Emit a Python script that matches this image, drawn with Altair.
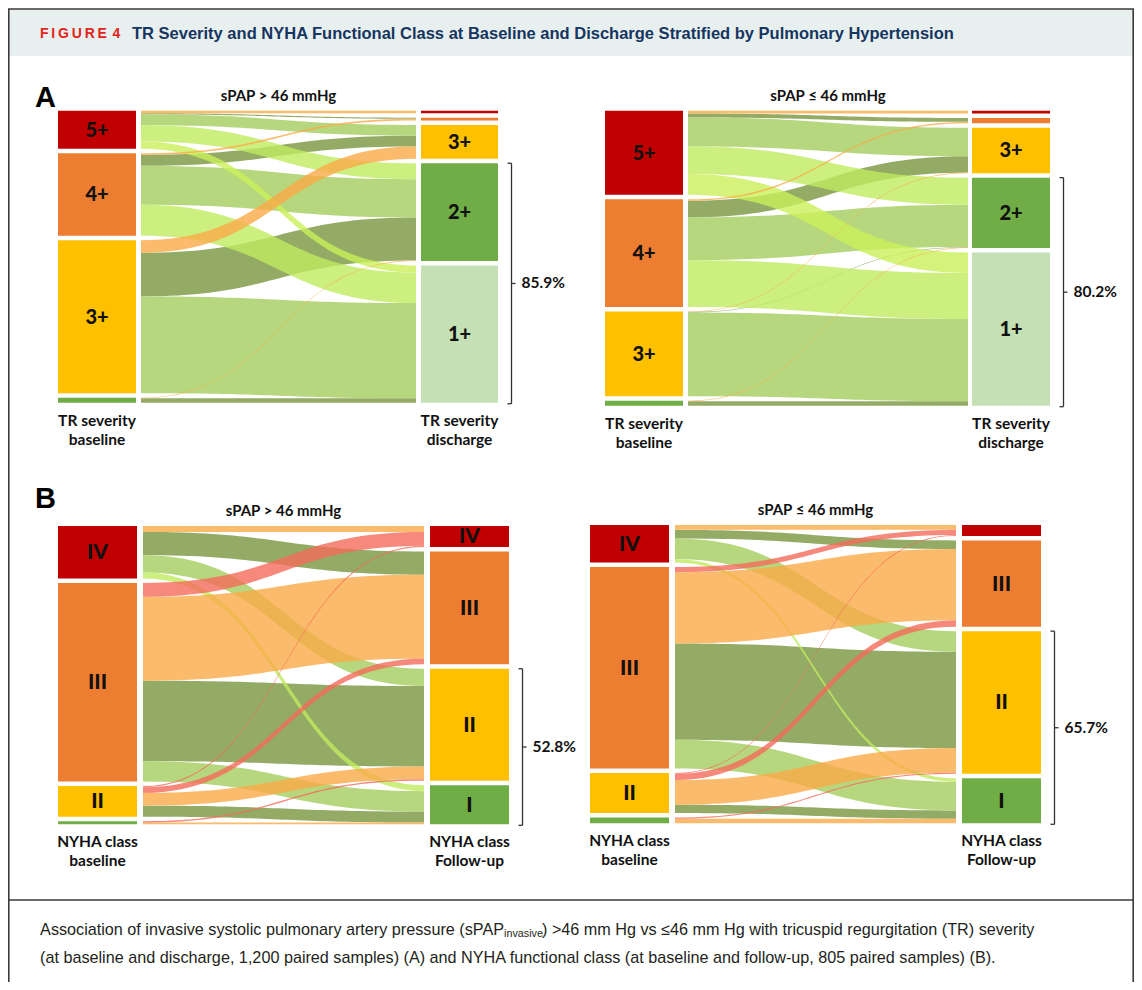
import altair as alt
import numpy as np
import pandas as pd

# ----------------------------- data -----------------------------
TR_GRADES = ["5+", "4+", "3+", "2+", "1+"]
NYHA_CLASSES = ["IV", "III", "II", "I"]

# Panel A (TR severity), % of paired samples, baseline -> discharge
A_SRC = ["5+", "5+", "5+", "5+", "5+", "4+", "4+", "4+", "4+", "3+", "3+", "3+", "2+", "2+"]
A_TGT = ["5+", "4+", "3+", "2+", "1+", "4+", "3+", "2+", "1+", "3+", "2+", "1+", "2+", "1+"]
A_HI_PCT = [0.9, 0.4, 3.9, 5.8, 2.6, 0.6, 3.9, 13.9, 11.1, 4.5, 15.6, 34.6, 0.2, 1.6]
A_LO_PCT = [1.0, 1.4, 10.3, 9.8, 7.4, 0.5, 5.9, 15.2, 16.6, 0.2, 0.2, 29.7, 0.2, 1.6]

# Panel B (NYHA class), % of paired samples, baseline -> follow-up
B_SRC = ["IV", "IV", "IV", "IV", "III", "III", "III", "III", "II", "II", "II", "II", "I", "I"]
B_TGT = ["IV", "III", "II", "I", "IV", "III", "II", "I", "IV", "III", "II", "I", "II", "I"]
B_HI_PCT = [2.1, 8.2, 6.1, 2.1, 4.9, 29.6, 28.4, 7.2, 0.4, 2.0, 4.5, 3.9, 0.5, 0.6]
B_LO_PCT = [1.7, 3.0, 7.2, 1.2, 1.8, 24.9, 33.6, 10.0, 0.3, 2.2, 8.6, 2.9, 0.4, 1.6]

PANEL_TITLES = ["sPAP > 46 mmHg", "sPAP \u2264 46 mmHg", "sPAP > 46 mmHg", "sPAP \u2264 46 mmHg"]
PCT_LABELS = ["85.9%", "80.2%", "52.8%", "65.7%"]
LEFT_LABELS = [["TR severity", "baseline"], ["TR severity", "baseline"],
               ["NYHA class", "baseline"], ["NYHA class", "baseline"]]
RIGHT_LABELS = [["TR severity", "discharge"], ["TR severity", "discharge"],
                ["NYHA class", "Follow-up"], ["NYHA class", "Follow-up"]]
BRACKET_FROM = ["2+", "2+", "II", "II"]

HEADER_TAG = "F\u2009I\u2009G\u2009U\u2009R\u2009E\u2009\u20094"
HEADER_TITLE = "TR Severity and NYHA Functional Class at Baseline and Discharge Stratified by Pulmonary Hypertension"
CAP1_A = "Association of invasive systolic pulmonary artery pressure (sPAP"
CAP1_SUB = "invasive"
CAP1_B = ") >46 mm Hg vs \u226446 mm Hg with tricuspid regurgitation (TR) severity"
CAP2 = "(at baseline and discharge, 1,200 paired samples) (A) and NYHA functional class (at baseline and follow-up, 805 paired samples) (B)."

# ----------------------------- styles / layout -----------------------------
NODE_COLORS = {"5+": "#C00000", "4+": "#ED7D31", "3+": "#FFC000", "2+": "#70AD47", "1+": "#C5E0B4",
               "IV": "#C00000", "III": "#ED7D31", "II": "#FFC000", "I": "#70AD47"}
FLOW_COLORS = {-3: "#F46B5A", -2: "#F46B5A", -1: "#F46B5A", 0: "#FAAA47",
               1: "#78963F", 2: "#A5CD5E", 3: "#C0EB60", 4: "#CBF05A"}
DRAW_ORDER = [1, 2, 3, 4, 0, -1, -2, -3]

PANELS = [
    dict(src=A_SRC, tgt=A_TGT, val=A_HI_PCT, order=TR_GRADES,
         xl=(58, 136), xf=(141, 416), xr=(421, 498), top=110.7, bottom=402.7, fs=20),
    dict(src=A_SRC, tgt=A_TGT, val=A_LO_PCT, order=TR_GRADES,
         xl=(605, 683), xf=(688, 968), xr=(972, 1050), top=110.7, bottom=405.7, fs=20),
    dict(src=B_SRC, tgt=B_TGT, val=B_HI_PCT, order=NYHA_CLASSES,
         xl=(58, 137), xf=(143, 424), xr=(430, 509), top=526, bottom=824.3, fs=21),
    dict(src=B_SRC, tgt=B_TGT, val=B_LO_PCT, order=NYHA_CLASSES,
         xl=(590, 669), xf=(675, 956), xr=(962, 1041), top=525, bottom=823.3, fs=21),
]
GAP = 4.5
LABEL_FONT = "Lato"
SANS = "Liberation Sans"

# ----------------------------- sankey layout -----------------------------
node_rows, flow_rows, nlabel_rows = [], [], []
title_rows, axis_rows, pct_rows, bracket_rows = [], [], [], []
T = np.linspace(0, 1, 41)

for pi, p in enumerate(PANELS):
    order = p["order"]
    rank = {c: i for i, c in enumerate(order)}
    H = p["bottom"] - p["top"]
    lt, rt = {}, {}
    for s, t, v in zip(p["src"], p["tgt"], p["val"]):
        lt[s] = lt.get(s, 0) + v
        rt[t] = rt.get(t, 0) + v

    def column(tot):
        present = [c for c in order if tot.get(c, 0) > 0]
        ssum = sum(tot[c] for c in present)
        k = (H - GAP * (len(present) - 1)) / ssum
        pos, y = {}, p["top"]
        for c in present:
            h = tot[c] * k
            pos[c] = (y, y + h)
            y += h + GAP
        return pos, k

    lpos, kl = column(lt)
    rpos, kr = column(rt)
    for side, pos, (x0, x1) in (("l", lpos, p["xl"]), ("r", rpos, p["xr"])):
        for c, (y0, y1) in pos.items():
            node_rows.append(dict(x=x0, x2=x1, y=y0, y2=y1, fill=NODE_COLORS[c]))
            if y1 - y0 >= 18:
                nlabel_rows.append(dict(x=(x0 + x1) / 2, y=(y0 + y1) / 2 + 1, text=c, size=p["fs"]))

    idx = list(range(len(p["val"])))
    lcur = {c: lpos[c][0] for c in lpos}
    rcur = {c: rpos[c][0] for c in rpos}
    lend, rend = {}, {}
    for i in sorted(idx, key=lambda i: (rank[p["src"][i]], rank[p["tgt"][i]])):
        y0 = lcur[p["src"][i]]
        lend[i] = (y0, y0 + p["val"][i] * kl)
        lcur[p["src"][i]] = lend[i][1]
    for i in sorted(idx, key=lambda i: (rank[p["tgt"][i]], rank[p["src"][i]])):
        y0 = rcur[p["tgt"][i]]
        rend[i] = (y0, y0 + p["val"][i] * kr)
        rcur[p["tgt"][i]] = rend[i][1]

    xf0, xf1 = p["xf"]
    for i in idx:
        imp = rank[p["tgt"][i]] - rank[p["src"][i]]
        (l0, l1), (r0, r1) = lend[i], rend[i]
        u = 1.5 * T * (1 - T) + T ** 3
        v = 3 * T ** 2 - 2 * T ** 3
        for uu, vv in zip(u, v):
            flow_rows.append(dict(fid=f"p{pi}f{i}", kind=imp, fill=FLOW_COLORS[imp],
                                  x=xf0 + uu * (xf1 - xf0),
                                  y=l0 + vv * (r0 - l0), y2=l1 + vv * (r1 - l1)))

    # titles and column labels
    title_rows.append(dict(x=(xf0 + xf1) / 2, y=p["top"] - 15, text=PANEL_TITLES[pi]))
    bot = max(lpos[c][1] for c in lpos)
    for j, txt in enumerate(LEFT_LABELS[pi]):
        axis_rows.append(dict(x=sum(p["xl"]) / 2, y=bot + 18 + 19 * j, text=txt))
    for j, txt in enumerate(RIGHT_LABELS[pi]):
        axis_rows.append(dict(x=sum(p["xr"]) / 2, y=bot + 18 + 19 * j, text=txt))

    # bracket
    bx = p["xr"][1] + 13.5
    by0 = rpos[BRACKET_FROM[pi]][0]
    by1 = max(rpos[c][1] for c in rpos) + 1
    bm = (by0 + by1) / 2
    bracket_rows += [dict(x=bx, x2=bx, y=by0, y2=by1),
                     dict(x=bx - 4, x2=bx, y=by0, y2=by0),
                     dict(x=bx - 4, x2=bx, y=by1, y2=by1),
                     dict(x=bx, x2=bx + 4, y=bm, y2=bm)]
    pct_rows.append(dict(x=bx + 10, y=bm, text=PCT_LABELS[pi]))

nodes_df = pd.DataFrame(node_rows)
flows_df = pd.DataFrame(flow_rows)

# ----------------------------- encodings -----------------------------
XS = alt.Scale(domain=[8, 1134], nice=False, zero=False)
YS = alt.Scale(domain=[8, 982], nice=False, zero=False, reverse=True)
X = alt.X("x:Q", scale=XS, axis=None)
Y = alt.Y("y:Q", scale=YS, axis=None)


def texts(rows, **kw):
    return alt.Chart(pd.DataFrame(rows)).mark_text(**kw).encode(x=X, y=Y, text="text:N")


layers = []
# header band and frame
layers.append(alt.Chart(pd.DataFrame([dict(x=8, x2=1134, y=9, y2=56)])).mark_rect(color="#E8F0EF").encode(
    x=X, x2="x2:Q", y=Y, y2="y2:Q"))
frame = pd.DataFrame([dict(x=8, x2=1134, y=9, y2=9), dict(x=8.8, x2=8.8, y=9, y2=982),
                      dict(x=1133.2, x2=1133.2, y=9, y2=982), dict(x=8, x2=1134, y=900, y2=900)])
layers.append(alt.Chart(frame).mark_rule(color="#3A3A3A", strokeWidth=1.6).encode(
    x=X, x2="x2:Q", y=Y, y2="y2:Q"))

# flows
for kind in DRAW_ORDER:
    sub = flows_df[flows_df["kind"] == kind]
    if len(sub) == 0:
        continue
    layers.append(alt.Chart(sub).mark_area(opacity=0.8, orient="vertical", interpolate="linear").encode(
        x=X, y=Y, y2="y2:Q", detail="fid:N", color=alt.Color("fill:N", scale=None)))

# nodes
layers.append(alt.Chart(nodes_df).mark_rect().encode(
    x=X, x2="x2:Q", y=Y, y2="y2:Q", color=alt.Color("fill:N", scale=None)))
layers.append(alt.Chart(pd.DataFrame(nlabel_rows)).mark_text(
    font=LABEL_FONT, fontWeight=900, color="#111111", baseline="middle").encode(
    x=X, y=Y, text="text:N", size=alt.Size("size:Q", scale=None)))

# brackets
layers.append(alt.Chart(pd.DataFrame(bracket_rows)).mark_rule(color="#333333", strokeWidth=1.3).encode(
    x=X, x2="x2:Q", y=Y, y2="y2:Q"))

layers.append(texts(title_rows, font=LABEL_FONT, fontSize=15, fontWeight="bold", color="#111111",
                    baseline="middle"))
layers.append(texts(axis_rows, font=LABEL_FONT, fontSize=15.5, fontWeight="bold", color="#111111",
                    baseline="middle"))
layers.append(texts(pct_rows, font=LABEL_FONT, fontSize=15.5, fontWeight="bold", color="#111111",
                    align="left", baseline="middle"))
layers.append(texts([dict(x=45.5, y=98, text="A"), dict(x=45.5, y=499, text="B")],
                    font=SANS, fontSize=29, fontWeight="bold", color="#000000",
                    baseline="middle"))

# header text
layers.append(texts([dict(x=40, y=33.5, text=HEADER_TAG)], font=SANS, fontSize=14, fontWeight="bold",
                    color="#E2231A", align="left", baseline="middle"))
layers.append(texts([dict(x=132, y=33.5, text=HEADER_TITLE)], font=SANS, fontSize=16.5, fontWeight="bold",
                    color="#163560", align="left", baseline="middle"))

# caption
layers.append(texts([dict(x=504, y=930, text=CAP1_A)], font=SANS, fontSize=16.2, color="#231F20",
                    align="right", baseline="middle"))
layers.append(texts([dict(x=504, y=934, text=CAP1_SUB)], font=SANS, fontSize=10.8, color="#231F20",
                    align="left", baseline="middle"))
layers.append(texts([dict(x=542, y=930, text=CAP1_B)], font=SANS, fontSize=16.2, color="#231F20",
                    align="left", baseline="middle"))
layers.append(texts([dict(x=40, y=958, text=CAP2)], font=SANS, fontSize=16.2, color="#231F20",
                    align="left", baseline="middle"))

chart = alt.layer(*layers).properties(
    width=1126, height=974, padding=0, autosize="none", background="white"
).configure_view(strokeWidth=0)

chart.save("out.html", embed_options={"renderer": "svg", "actions": False})
